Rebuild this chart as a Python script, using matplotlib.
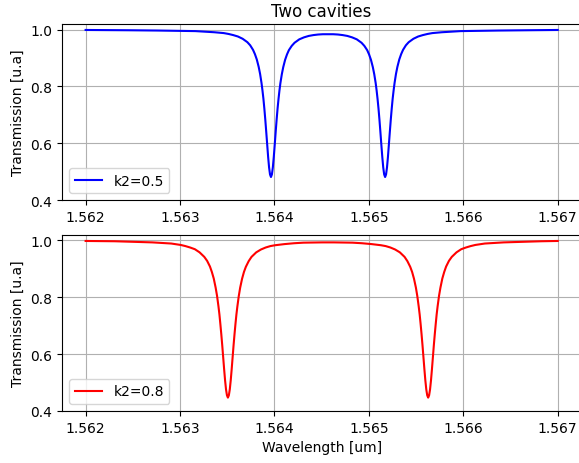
import numpy as np
import matplotlib
matplotlib.use('Agg')
import matplotlib.pyplot as plt
from matplotlib.ticker import FormatStrFormatter

# wavelength [um] and transmission for k2 = 0.5
wl_k05 = [1.562, 1.562463, 1.562763, 1.562963, 1.563163, 1.563263, 1.563363,
          1.563463, 1.563513, 1.563563, 1.563613, 1.563663, 1.563713, 1.563743,
          1.563773, 1.563793, 1.563813, 1.563833, 1.563848, 1.563863, 1.563873,
          1.563883, 1.563893, 1.563903, 1.563913, 1.563923, 1.563933, 1.563943,
          1.563953, 1.563963,
          1.563973, 1.563983, 1.563993, 1.564003, 1.564013, 1.564023, 1.564033,
          1.564043, 1.564053, 1.564063, 1.564078, 1.564093, 1.564113, 1.564133,
          1.564153, 1.564183, 1.564213, 1.564263, 1.564313, 1.564363, 1.564413,
          1.564463, 1.564513, 1.5645675,
          1.564622, 1.564672, 1.564722, 1.564772, 1.564822, 1.564872, 1.564922,
          1.564952, 1.564982, 1.565002, 1.565022, 1.565042, 1.565057, 1.565072,
          1.565082, 1.565092, 1.565102, 1.565112, 1.565122, 1.565132, 1.565142,
          1.565152, 1.565162, 1.565172,
          1.565182, 1.565192, 1.565202, 1.565212, 1.565222, 1.565232, 1.565242,
          1.565252, 1.565262, 1.565272, 1.565287, 1.565302, 1.565322, 1.565342,
          1.565362, 1.565392, 1.565422, 1.565472, 1.565522, 1.565572, 1.565622,
          1.565672, 1.565772, 1.565872, 1.565972, 1.566172, 1.566372, 1.566672,
          1.567]
tr_k05 = [0.999, 0.998, 0.997, 0.996, 0.995, 0.993, 0.991,
          0.988, 0.985, 0.981, 0.976, 0.968, 0.956, 0.945,
          0.929, 0.914, 0.895, 0.869, 0.844, 0.812, 0.786,
          0.757, 0.722, 0.683, 0.640, 0.596, 0.552, 0.515,
          0.490, 0.481,
          0.490, 0.515, 0.552, 0.595, 0.640, 0.683, 0.722,
          0.756, 0.786, 0.812, 0.843, 0.868, 0.894, 0.913,
          0.928, 0.943, 0.954, 0.966, 0.973, 0.978, 0.981,
          0.983, 0.984, 0.984,
          0.984, 0.983, 0.981, 0.978, 0.973, 0.966, 0.954,
          0.943, 0.928, 0.913, 0.894, 0.868, 0.843, 0.812,
          0.786, 0.756, 0.722, 0.683, 0.640, 0.595, 0.552,
          0.515, 0.490, 0.481,
          0.490, 0.515, 0.552, 0.596, 0.640, 0.683, 0.722,
          0.757, 0.786, 0.812, 0.844, 0.869, 0.895, 0.914,
          0.929, 0.945, 0.956, 0.968, 0.976, 0.981, 0.985,
          0.988, 0.991, 0.993, 0.995, 0.996, 0.997, 0.998,
          0.999]

# wavelength [um] and transmission for k2 = 0.8
wl_k08 = [1.562, 1.562307, 1.562507, 1.562707, 1.562807, 1.562907, 1.563007,
          1.563057, 1.563107, 1.563157, 1.563207, 1.563257, 1.563287, 1.563317,
          1.563337, 1.563357, 1.563377, 1.563392, 1.563407, 1.563417, 1.563427,
          1.563437, 1.563447, 1.563457, 1.563467, 1.563477, 1.563487, 1.563497,
          1.563507,
          1.563517, 1.563527, 1.563537, 1.563547, 1.563557, 1.563567, 1.563577,
          1.563587, 1.563597, 1.563607, 1.563622, 1.563637, 1.563657, 1.563677,
          1.563697, 1.563727, 1.563757, 1.563807, 1.563857, 1.563907, 1.563957,
          1.564007, 1.564107, 1.564207, 1.564307, 1.564507, 1.5645675,
          1.564628, 1.564828, 1.564928, 1.565028, 1.565128, 1.565178, 1.565228,
          1.565278, 1.565328, 1.565378, 1.565408, 1.565438, 1.565458, 1.565478,
          1.565498, 1.565513, 1.565528, 1.565538, 1.565548, 1.565558, 1.565568,
          1.565578, 1.565588, 1.565598, 1.565608, 1.565618, 1.565628,
          1.565638, 1.565648, 1.565658, 1.565668, 1.565678, 1.565688, 1.565698,
          1.565708, 1.565718, 1.565728, 1.565743, 1.565758, 1.565778, 1.565798,
          1.565818, 1.565848, 1.565878, 1.565928, 1.565978, 1.566028, 1.566078,
          1.566128, 1.566228, 1.566328, 1.566428, 1.566628, 1.566828, 1.567]
tr_k08 = [0.998, 0.997, 0.995, 0.993, 0.991, 0.989, 0.984,
          0.980, 0.975, 0.969, 0.958, 0.942, 0.928, 0.908,
          0.889, 0.866, 0.834, 0.805, 0.768, 0.740, 0.706,
          0.670, 0.631, 0.589, 0.547, 0.508, 0.476, 0.455,
          0.447,
          0.455, 0.476, 0.508, 0.547, 0.589, 0.631, 0.670,
          0.706, 0.739, 0.767, 0.804, 0.834, 0.865, 0.889,
          0.907, 0.927, 0.942, 0.958, 0.968, 0.975, 0.980,
          0.983, 0.987, 0.990, 0.992, 0.993, 0.993,
          0.993, 0.992, 0.990, 0.987, 0.983, 0.980, 0.975,
          0.968, 0.958, 0.942, 0.927, 0.907, 0.889, 0.865,
          0.834, 0.804, 0.767, 0.739, 0.706, 0.670, 0.631,
          0.589, 0.547, 0.508, 0.476, 0.455, 0.447,
          0.455, 0.476, 0.508, 0.547, 0.589, 0.631, 0.670,
          0.706, 0.740, 0.768, 0.805, 0.834, 0.866, 0.889,
          0.908, 0.928, 0.942, 0.958, 0.969, 0.975, 0.980,
          0.984, 0.989, 0.991, 0.993, 0.995, 0.997, 0.998]

x_ticks = [1.562, 1.563, 1.564, 1.565, 1.566, 1.567]
y_ticks = [0.4, 0.6, 0.8, 1.0]

fig = plt.figure(figsize=(5.79, 4.64), dpi=100)
ax1 = fig.add_axes([0.1071, 0.5668, 0.8969, 0.3793])
ax2 = fig.add_axes([0.1071, 0.1121, 0.8969, 0.3799])

for ax, wl, tr, col, lab in [(ax1, wl_k05, tr_k05, 'blue', 'k2=0.5'),
                             (ax2, wl_k08, tr_k08, 'red', 'k2=0.8')]:
    ax.plot(wl, tr, color=col, lw=1.5, label=lab)
    ax.set_xlim(1.56175, 1.56725)
    ax.set_ylim(0.4, 1.02)
    ax.set_xticks(x_ticks)
    ax.set_yticks(y_ticks)
    ax.xaxis.set_major_formatter(FormatStrFormatter('%.3f'))
    ax.yaxis.set_major_formatter(FormatStrFormatter('%.1f'))
    ax.grid()
    ax.legend(loc='lower left')
    ax.set_ylabel('Transmission [u.a]')

ax1.set_title('Two cavities')
ax2.set_xlabel('Wavelength [um]')

fig.savefig('out.png', dpi=100)
